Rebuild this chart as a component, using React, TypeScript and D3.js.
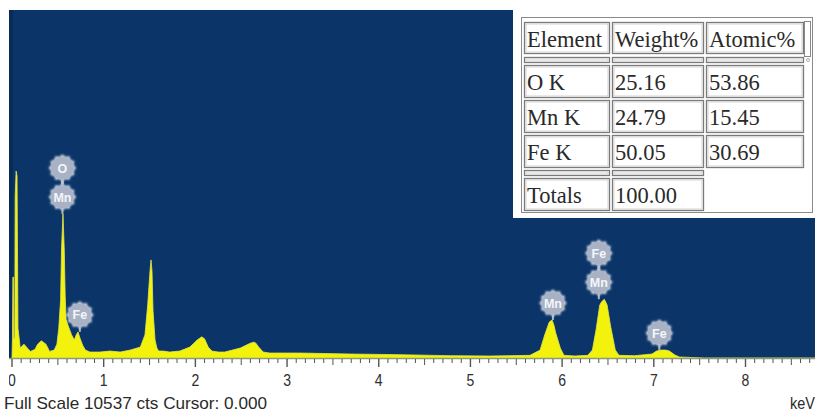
import React from "react";
import * as d3 from "d3";

// Spectrum: energy (keV) and counts
const energies = [0.0, 0.005, 0.01, 0.015, 0.02, 0.03, 0.035, 0.045, 0.055, 0.065, 0.09, 0.13, 0.2, 0.25, 0.28, 0.32, 0.37, 0.41, 0.46, 0.49, 0.51, 0.53, 0.54, 0.556, 0.57, 0.58, 0.59, 0.61, 0.63, 0.65, 0.68, 0.7, 0.72, 0.74, 0.77, 0.8, 0.85, 0.96, 1.07, 1.18, 1.29, 1.4, 1.45, 1.48, 1.505, 1.516, 1.527, 1.538, 1.56, 1.58, 1.6, 1.65, 1.72, 1.83, 1.94, 2.02, 2.07, 2.1, 2.14, 2.18, 2.25, 2.32, 2.49, 2.6, 2.64, 2.66, 2.69, 2.74, 2.81, 3.14, 3.69, 4.23, 4.78, 5.21, 5.65, 5.76, 5.81, 5.86, 5.89, 5.91, 5.93, 5.98, 6.02, 6.14, 6.28, 6.33, 6.37, 6.41, 6.43, 6.46, 6.49, 6.53, 6.58, 6.62, 6.79, 6.98, 7.03, 7.08, 7.13, 7.17, 7.23, 7.28, 7.55, 8.8];
const counts = [0, 600, 2450, 2450, 600, 600, 4900, 5660, 5500, 900, 300, 420, 200, 260, 420, 520, 420, 200, 240, 420, 900, 1760, 3270, 4360, 3270, 1880, 1170, 1000, 850, 700, 545, 700, 790, 610, 390, 240, 180, 180, 210, 180, 240, 330, 700, 1600, 2630, 2970, 2630, 1440, 545, 300, 210, 210, 180, 210, 330, 545, 640, 580, 330, 210, 180, 180, 300, 450, 480, 450, 330, 180, 150, 150, 120, 100, 70, 60, 80, 240, 700, 1090, 1150, 1000, 760, 300, 80, 60, 80, 240, 850, 1600, 1700, 1780, 1610, 940, 240, 80, 70, 120, 210, 240, 240, 210, 90, 30, 0, 0];

const xTickValues = [0, 1, 2, 3, 4, 5, 6, 7, 8];
const fullScale = 10537;

// Peak labels
const markerLabels = ["O", "Mn", "Fe", "Mn", "Fe", "Mn", "Fe"];
const markerEnergies = [0.55, 0.55, 0.74, 5.9, 6.4, 6.4, 7.06];
const markerPeakCounts = [4360, 4360, 790, 1150, 1780, 1780, 240];
const markerStack = [1, 0, 0, 0, 1, 0, 0];

// Quantification table
const tableHeaders = ["Element", "Weight%", "Atomic%"];
const tableElements = ["O K", "Mn K", "Fe K"];
const weightPct = ["25.16", "24.79", "50.05"];
const atomicPct = ["53.86", "15.45", "30.69"];
const totalLabel = "Totals";
const totalWeight = "100.00";

const W = 815;
const H = 415;
const plotLeft = 9;
const plotTop = 10;
const baseY = 358;

export default function App() {
  const x = d3.scaleLinear().domain([0, 8]).range([12, 745.5]);
  const y = d3.scaleLinear().domain([0, fullScale]).range([baseY, plotTop]);

  const pts: [number, number][] = energies.map((e, i) => [e, counts[i]]);
  const area = d3
    .area<[number, number]>()
    .x((d) => x(d[0]))
    .y0(baseY)
    .y1((d) => y(d[1]))
    .curve(d3.curveLinear);
  const line = d3
    .line<[number, number]>()
    .x((d) => x(d[0]))
    .y((d) => y(d[1]));

  const minorTicks = d3.range(0, 88).map((i) => i / 10);

  // scalloped badge
  const badgeR = 12.5;
  const badgePath =
    d3
      .lineRadial<number>()
      .angle((a) => a)
      .radius((a) => badgeR + 1.1 * Math.cos(a * 12))
      .curve(d3.curveCardinalClosed)(d3.range(0, 48).map((i) => (i / 48) * Math.PI * 2)) || "";

  // table geometry
  const colX = [524, 612, 706];
  const colW = [85, 91, 97];
  const rowY = [22, 65, 100, 135, 178];
  const rowH = 32;

  const cell = (cx: number, cy: number, w: number, h: number, key: string) => (
    <g key={key}>
      <rect x={cx + 0.5} y={cy + 0.5} width={w} height={h} fill="#fff" stroke="#7a7a7a" strokeWidth={1.3} />
      <rect x={cx + 2} y={cy + 2} width={w - 3} height={h - 3} fill="none" stroke="#c8c8c8" strokeWidth={0.8} />
    </g>
  );

  const serif = "'Liberation Serif', 'Times New Roman', serif";
  const sans = "'Liberation Sans', Arial, sans-serif";
  const textFill = "#2a2a2a";
  const tfs = 22.5;

  const rows = tableElements.map((el, i) => [el, weightPct[i], atomicPct[i]]);

  return (
    <svg width={W} height={H} style={{ position: "fixed", left: 0, top: 0, background: "#fff" }}>
      <defs>
        <clipPath id="plotclip">
          <rect x={plotLeft} y={0} width={W - plotLeft} height={H} />
        </clipPath>
        <filter id="glow" x="-50%" y="-50%" width="200%" height="200%">
          <feGaussianBlur stdDeviation="0.9" />
        </filter>
      </defs>
      <rect x={0} y={0} width={W} height={H} fill="#fff" />
      <rect x={plotLeft} y={plotTop} width={W - plotLeft} height={baseY - plotTop} fill="#0b3569" />
      <rect x={plotLeft} y={plotTop} width={4} height={baseY - plotTop} fill="#082c58" />

      <g clipPath="url(#plotclip)">
        <path d={area(pts) || ""} fill="#f2f20c" />
        <path d={line(pts) || ""} fill="none" stroke="#e4e64a" strokeWidth={0.8} />
      </g>

      {/* axis line */}
      <line x1={plotLeft} x2={W} y1={baseY + 0.5} y2={baseY + 0.5} stroke="#8c9a78" strokeWidth={1.5} />
      {minorTicks.map((t, i) => {
        const isMajor = i % 10 === 0;
        const isMid = i % 5 === 0;
        const len = isMajor ? 8 : isMid ? 6 : 4;
        return (
          <line
            key={"t" + i}
            x1={x(t)}
            x2={x(t)}
            y1={baseY + 1}
            y2={baseY + 1 + len}
            stroke="#555"
            strokeWidth={isMajor ? 1.4 : 1}
          />
        );
      })}
      <g clipPath="url(#plotclip)">
        {xTickValues.map((t) => (
          <text
            key={"l" + t}
            x={0}
            y={0}
            transform={`translate(${x(t)},386) scale(0.85,1)`}
            textAnchor="middle"
            fontFamily={sans}
            fontSize={16.5}
            fill="#2e2e2e"
          >
            {t}
          </text>
        ))}
      </g>
      <text x={4} y={409} fontFamily={sans} fontSize={17} fill="#2a2a2a" textLength={263} lengthAdjust="spacingAndGlyphs">
        Full Scale {fullScale} cts Cursor: 0.000
      </text>
      <text x={0} y={0} transform="translate(790,409) scale(0.85,1)" fontFamily={sans} fontSize={17} fill="#2a2a2a">
        keV
      </text>

      {/* peak markers */}
      {markerLabels.map((lab, i) => {
        const px = x(markerEnergies[i]);
        const peakY = y(markerPeakCounts[i]);
        const cy = peakY - 17 - markerStack[i] * 29;
        return (
          <g key={"m" + i}>
            {markerStack[i] === 0 && (
              <line x1={px} x2={px} y1={cy + badgeR} y2={peakY} stroke="#a9b6c8" strokeWidth={2} />
            )}
            {markerStack[i] === 1 && (
              <line x1={px} x2={px} y1={cy + badgeR} y2={cy + 29 - badgeR} stroke="#a9b6c8" strokeWidth={3} />
            )}
            <path d={badgePath} transform={`translate(${px},${cy})`} fill="#dfe4ec" filter="url(#glow)" />
            <circle cx={px} cy={cy} r={badgeR - 1} fill="#a8b2c4" />
            <text
              x={px}
              y={cy + 4.5}
              textAnchor="middle"
              fontFamily={sans}
              fontWeight="bold"
              fontSize={12.5}
              fill="#f4f6fa"
            >
              {lab}
            </text>
          </g>
        );
      })}

      {/* table panel */}
      <rect x={513} y={10} width={302} height={208} fill="#fff" />
      <rect x={521.5} y={17.5} width={291} height={195} fill="none" stroke="#8a8a8a" strokeWidth={1} />
      {tableHeaders.map((h, j) => cell(colX[j], rowY[0], colW[j], 31, "h" + j))}
      {tableHeaders.map((h, j) => (
        <text key={"ht" + j} x={colX[j] + 3} y={rowY[0] + 25} fontFamily={serif} fontSize={tfs} fill={textFill}>
          {h}
        </text>
      ))}
      {/* scrollbar stub */}
      <rect x={804.5} y={21.5} width={6} height={35} fill="#fff" stroke="#888" strokeWidth={1} />
      <circle cx={808} cy={60} r={1.5} fill="none" stroke="#999" strokeWidth={0.8} />
      {/* separator rows */}
      {colX.map((cx, j) => cell(cx, 57, colW[j], 5, "s1" + j))}
      {colX.slice(0, 2).map((cx, j) => cell(cx, 170, colW[j], 5, "s2" + j))}
      {rows.map((r, i) =>
        r.map((v, j) => (
          <g key={"r" + i + j}>
            {cell(colX[j], rowY[i + 1], colW[j], rowH, "c" + i + j)}
            <text x={colX[j] + 3} y={rowY[i + 1] + 25} fontFamily={serif} fontSize={tfs} fill={textFill}>
              {v}
            </text>
          </g>
        ))
      )}
      {cell(colX[0], rowY[4], colW[0], rowH, "tot0")}
      {cell(colX[1], rowY[4], colW[1], rowH, "tot1")}
      <text x={colX[0] + 3} y={rowY[4] + 25} fontFamily={serif} fontSize={tfs} fill={textFill}>
        {totalLabel}
      </text>
      <text x={colX[1] + 3} y={rowY[4] + 25} fontFamily={serif} fontSize={tfs} fill={textFill}>
        {totalWeight}
      </text>
    </svg>
  );
}
